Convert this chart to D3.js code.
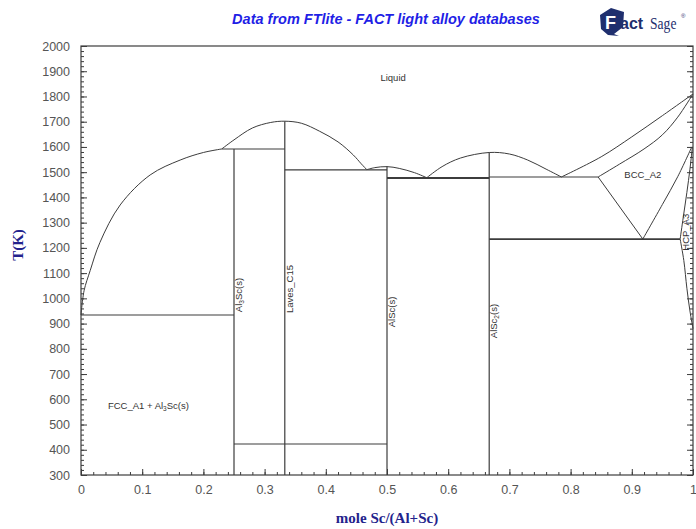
<!DOCTYPE html>
<html>
<head>
<meta charset="utf-8">
<script src="https://cdn.jsdelivr.net/npm/d3@7/dist/d3.min.js"></script>
<style>
  html, body { margin: 0; padding: 0; background: #fff; }
  svg { display: block; }
</style>
</head>
<body>
<svg id="chart" width="696" height="529"></svg>
<script>
// Al–Sc phase diagram (FTlite). Points are [mole fraction Sc, T in K].
const xTicks = [0, 0.1, 0.2, 0.3, 0.4, 0.5, 0.6, 0.7, 0.8, 0.9, 1];
const xTickLabels = ["0", "0.1", "0.2", "0.3", "0.4", "0.5", "0.6", "0.7", "0.8", "0.9", "1"];
const yTicks = [300, 400, 500, 600, 700, 800, 900, 1000, 1100, 1200, 1300, 1400, 1500, 1600, 1700, 1800, 1900, 2000];

// Liquidus branches
const liqFcc = [[0, 934], [0.005, 1030], [0.015, 1110], [0.031, 1222], [0.064, 1370], [0.113, 1489],
                [0.162, 1548], [0.2, 1578], [0.23, 1592]];
const liqLaves = [[0.23, 1592], [0.25, 1628], [0.28, 1675], [0.31, 1697], [0.333, 1702], [0.36, 1694],
                  [0.39, 1662], [0.42, 1620], [0.445, 1568], [0.458, 1533], [0.467, 1510]];
const liqAlSc = [[0.467, 1510], [0.48, 1518], [0.5, 1522], [0.52, 1515], [0.545, 1498], [0.565, 1478]];
const liqAlSc2 = [[0.565, 1478], [0.59, 1522], [0.62, 1556], [0.667, 1578], [0.7, 1572], [0.73, 1548],
                  [0.76, 1512], [0.785, 1481]];
const liqBcc = [[0.785, 1481], [0.85, 1561], [0.9, 1640], [0.95, 1724], [1, 1810]];

// BCC_A2 boundaries
const solBcc = [[0.845, 1481], [0.88, 1532], [0.92, 1592], [0.95, 1648], [0.975, 1718], [1, 1810]];
const bccLeft = [[0.845, 1481], [0.918, 1235]];
const bccRight = [[0.918, 1235], [0.95, 1372], [0.975, 1482], [0.998, 1600]];

// HCP_A3 boundaries
const hcpUpper = [[0.979, 1235], [0.984, 1320], [0.99, 1420], [0.995, 1512], [0.999, 1600]];
const hcpLower = [[0.979, 1235], [0.985, 1150], [0.99, 1040], [0.995, 950], [1, 880]];

// Invariant lines [x1, x2, T]
const invariants = [
  [0, 0.25, 934],
  [0.23, 0.333, 1592],
  [0.333, 0.5, 1509],
  [0.5, 0.667, 1477],
  [0.667, 0.845, 1481],
  [0.667, 0.979, 1235],
  [0.25, 0.5, 423]
];
const thickInvariants = [1477, 1235];

// Line compounds [x, top T]
const compounds = [[0.25, 1592], [0.333, 1702], [0.5, 1522], [0.667, 1578]];

const svg = d3.select("#chart");
const m = { left: 81, right: 693, top: 46, bottom: 475 };

const x = d3.scaleLinear().domain([0, 1]).range([m.left, m.right]);
const y = d3.scaleLinear().domain([300, 2000]).range([m.bottom, m.top]);

const ink = "#3c3c3c";
const tickColor = "#555";
const sans = "Liberation Sans, Arial, sans-serif";
const serif = "Liberation Serif, Times New Roman, serif";

// Title
svg.append("text")
  .attr("x", 386).attr("y", 24)
  .attr("text-anchor", "middle")
  .attr("font-family", sans)
  .attr("font-size", 14.5).attr("font-weight", "bold").attr("font-style", "italic")
  .attr("fill", "#1f1fe6")
  .text("Data from FTlite - FACT light alloy databases");

// FactSage logo
const logo = svg.append("g").attr("transform", "translate(599,5)");
logo.append("path")
  .attr("d", "M1,10 L12,3 L25,7 L24,22 L15,29 L20,31 L9,30 L2,24 Z")
  .attr("fill", "#1f2f6e");
logo.append("text")
  .attr("x", 6).attr("y", 24)
  .attr("font-family", sans)
  .attr("font-size", 18).attr("font-weight", "bold")
  .attr("fill", "#ffffff").text("F");
logo.append("text")
  .attr("x", 21).attr("y", 24)
  .attr("font-family", sans)
  .attr("font-size", 16).attr("font-weight", "bold")
  .attr("fill", "#1f2f6e").text("act");
logo.append("text")
  .attr("transform", "translate(51,24) scale(0.85,1.1)")
  .attr("font-family", serif)
  .attr("font-size", 16)
  .attr("fill", "#1f2f6e").text("Sage");
logo.append("text")
  .attr("x", 82).attr("y", 13)
  .attr("font-family", sans)
  .attr("font-size", 6)
  .attr("fill", "#1f2f6e").text("®");

// Axes: minor ticks
const xMinor = d3.range(0, 1.0001, 0.02).map(v => +v.toFixed(2));
const yMinor = d3.range(300, 2001, 20);

svg.append("g").attr("transform", `translate(0,${m.bottom})`)
  .call(d3.axisBottom(x).tickValues(xMinor).tickSize(-3).tickFormat(""))
  .call(g => g.select(".domain").remove())
  .selectAll("line").attr("stroke", ink);

svg.append("g").attr("transform", `translate(${m.left},0)`)
  .call(d3.axisLeft(y).tickValues(yMinor).tickSize(-3).tickFormat(""))
  .call(g => g.select(".domain").remove())
  .selectAll("line").attr("stroke", ink);

svg.append("g").attr("transform", `translate(${m.right},0)`)
  .call(d3.axisRight(y).tickValues(yMinor).tickSize(-3).tickFormat(""))
  .call(g => g.select(".domain").remove())
  .selectAll("line").attr("stroke", ink);

// Axes: major ticks with labels
const xAxis = svg.append("g").attr("transform", `translate(0,${m.bottom})`)
  .call(d3.axisBottom(x).tickValues(xTicks).tickSize(-6).tickPadding(10)
    .tickFormat((d, i) => xTickLabels[i]));
xAxis.select(".domain").remove();
xAxis.selectAll("line").attr("stroke", ink);
xAxis.selectAll("text")
  .attr("font-family", sans)
  .attr("font-size", 12.5).attr("fill", tickColor);

const yAxis = svg.append("g").attr("transform", `translate(${m.left},0)`)
  .call(d3.axisLeft(y).tickValues(yTicks).tickSize(-6).tickPadding(11).tickFormat(d3.format("d")));
yAxis.select(".domain").remove();
yAxis.selectAll("line").attr("stroke", ink);
yAxis.selectAll("text")
  .attr("font-family", sans)
  .attr("font-size", 12.5).attr("fill", tickColor);

svg.append("g").attr("transform", `translate(${m.right},0)`)
  .call(d3.axisRight(y).tickValues(yTicks).tickSize(-6).tickFormat(""))
  .call(g => g.select(".domain").remove())
  .selectAll("line").attr("stroke", ink);

// Frame
svg.append("rect")
  .attr("x", m.left).attr("y", m.top)
  .attr("width", m.right - m.left).attr("height", m.bottom - m.top)
  .attr("fill", "none").attr("stroke", ink).attr("stroke-width", 1.2);

// Phase boundaries
const plot = svg.append("g").attr("fill", "none").attr("stroke", ink).attr("stroke-width", 1);
const curve = d3.line().x(d => x(d[0])).y(d => y(d[1])).curve(d3.curveCatmullRom.alpha(0.5));
const straight = d3.line().x(d => x(d[0])).y(d => y(d[1]));

[liqFcc, liqLaves, liqAlSc, liqAlSc2, liqBcc, solBcc, bccRight, hcpUpper, hcpLower]
  .forEach(pts => plot.append("path").attr("d", curve(pts)));
plot.append("path").attr("d", straight(bccLeft));

invariants.forEach(([x1, x2, t]) => {
  plot.append("line")
    .attr("x1", x(x1)).attr("x2", x(x2))
    .attr("y1", y(t)).attr("y2", y(t))
    .attr("stroke-width", thickInvariants.includes(t) ? 1.8 : 1.1);
});

compounds.forEach(([c, t]) => {
  plot.append("line")
    .attr("x1", x(c)).attr("x2", x(c))
    .attr("y1", y(300)).attr("y2", y(t))
    .attr("stroke-width", 1.2);
});

// Phase labels
const lab = svg.append("g")
  .attr("font-family", sans)
  .attr("font-size", 9.5).attr("fill", "#333");

lab.append("text").attr("x", x(0.51)).attr("y", y(1860)).attr("text-anchor", "middle").text("Liquid");
lab.append("text").attr("x", x(0.918)).attr("y", y(1477)).attr("text-anchor", "middle").text("BCC_A2");

const fcc = lab.append("text").attr("x", x(0.044)).attr("y", y(560));
fcc.append("tspan").text("FCC_A1 + Al");
fcc.append("tspan").attr("font-size", 6.5).attr("dy", 2).text("3");
fcc.append("tspan").attr("dy", -2).text("Sc(s)");

function vlabel(px, tv, parts) {
  const t = lab.append("text")
    .attr("transform", `translate(${px},${y(tv)}) rotate(-90)`)
    .attr("text-anchor", "middle");
  parts.forEach(([s, sub], i) => {
    t.append("tspan")
      .attr("font-size", sub ? 6.5 : 9.5)
      .attr("dy", sub ? 2 : (i > 0 ? -2 : 0))
      .text(s);
  });
}
vlabel(x(0.25) + 8, 1013, [["Al"], ["3", true], ["Sc(s)"]]);
vlabel(x(0.333) + 8, 1037, [["Laves_C15"]]);
vlabel(x(0.5) + 8, 946, [["AlSc(s)"]]);
vlabel(x(0.667) + 8, 910, [["AlSc"], ["2", true], ["(s)"]]);
vlabel(689, 1262, [["HCP_A3"]]);

// Axis titles
svg.append("text")
  .attr("transform", "translate(23,245) rotate(-90)")
  .attr("text-anchor", "middle")
  .attr("font-family", serif)
  .attr("font-size", 15).attr("font-weight", "bold")
  .attr("fill", "#23238c")
  .text("T(K)");

svg.append("text")
  .attr("x", 387).attr("y", 523)
  .attr("text-anchor", "middle")
  .attr("font-family", serif)
  .attr("font-size", 15).attr("font-weight", "bold")
  .attr("fill", "#23238c")
  .text("mole Sc/(Al+Sc)");
</script>
</body>
</html>
